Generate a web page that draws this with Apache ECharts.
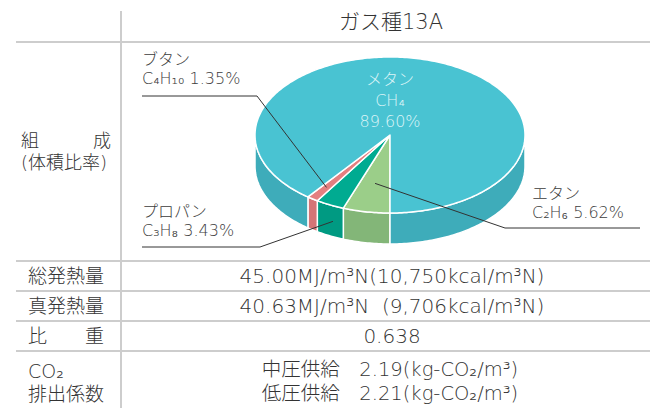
<!DOCTYPE html>
<html><head><meta charset="utf-8">
<script src="https://cdn.jsdelivr.net/npm/echarts@6/dist/echarts.min.js"></script>
<style>html,body{margin:0;padding:0;background:#fff}#c{width:650px;height:408px}</style>
</head><body><div id="c"></div>
<script>
// ---- data ----
const headerText = 'ガス種13A';
const compositionLabel = ['組\u3000\u3000\u3000成', '(体積比率)'];
const gasNames = ['エタン', 'プロパン', 'ブタン', 'メタン'];
const gasFormulas = ['C₂H₆', 'C₃H₈', 'C₄H₁₀', 'CH₄'];
const gasShares = [5.62, 3.43, 1.35, 89.60];
const rowLabels = ['総発熱量', '真発熱量', '比\u3000\u3000重'];
const rowValues = ['45.00MJ/m³N(10,750kcal/m³N)', '40.63MJ/m³N  (9,706kcal/m³N)', '0.638'];
const co2Label = ['CO₂', '排出係数'];
const co2Supply = ['中圧供給', '低圧供給'];
const co2Values = [2.19, 2.21];

// ---- styles / layout ----
const topColors = ['#9BCE89', '#00AB91', '#E47F80', '#49C3D2'];
const sideColors = ['#83B678', '#009A82', '#D47576', '#3EACBA'];
const FONT = '"DejaVu Sans","Noto Sans CJK JP",sans-serif';
const TXT = '#333333';
const LINE = '#cdcdcd';
const PIE = {cx: 390, cy: 135, rx: 135, ry: 78, depth: 31};
const labelLayout = [
  {anchorF: 0.63, drop: 0, elbow: [505, 228], end: [640, 228], tx: 532, ty: 203},
  {anchorF: 0.95, drop: 20, elbow: [260, 247], end: [142, 247], tx: 142, ty: 221},
  {anchorF: 0.82, drop: 0, elbow: [257, 96], end: [142, 96], tx: 142, ty: 69},
  null
];

const total = gasShares.reduce((a, b) => a + b, 0);
const starts = [];
{ let acc = 0; gasShares.forEach(v => { starts.push(acc / total * 360); acc += v; }); }
const rad = d => d * Math.PI / 180;
function pt(phi, f, dy) {
  f = f == null ? 1 : f; dy = dy || 0;
  return [PIE.cx - PIE.rx * f * Math.sin(rad(phi)), PIE.cy + PIE.ry * f * Math.cos(rad(phi)) + dy];
}
function arc(a, b, dy) {
  const pts = []; const n = Math.max(2, Math.ceil(Math.abs(b - a)));
  for (let i = 0; i <= n; i++) pts.push(pt(a + (b - a) * i / n, 1, dy));
  return pts;
}
function sliceRange(i) { return [starts[i], starts[i] + gasShares[i] / total * 360]; }

function renderSide(params, api) {
  const i = params.dataIndex;
  const [a, b] = sliceRange(i);
  const children = [];
  [[0, 90], [270, 360]].forEach(([lo, hi]) => {
    const s = Math.max(a, lo), e = Math.min(b, hi);
    if (e > s) {
      const top = arc(s, e, 0);
      const bot = arc(e, s, PIE.depth);
      children.push({type: 'polygon', shape: {points: top.concat(bot)},
        style: {fill: sideColors[i], stroke: '#fff', lineWidth: 1.5, lineJoin: 'round'}});
    }
  });
  return {type: 'group', children};
}
function renderTop(params, api) {
  const i = params.dataIndex;
  const [a, b] = sliceRange(i);
  const children = [{type: 'polygon', shape: {points: [[PIE.cx, PIE.cy]].concat(arc(a, b, 0))},
    style: {fill: topColors[i], stroke: '#fff', lineWidth: 1.5, lineJoin: 'round'}}];
  const L = labelLayout[i];
  if (L) {
    const mid = (a + b) / 2;
    const anc = pt(mid, L.anchorF, L.drop);
    children.push({type: 'polyline', shape: {points: [anc, L.elbow, L.end]},
      style: {stroke: '#333', lineWidth: 1, fill: null}, z2: 20});
  }
  return {type: 'group', children};
}

function txt(x, y, text, size, opts) {
  opts = opts || {};
  return {type: 'text', x, y, silent: true,
    style: {text, fill: opts.color || TXT, font: `300 ${size}px ${opts.font || FONT}`, align: opts.align || 'left',
      verticalAlign: 'middle', lineHeight: opts.lineHeight || Math.round(size * 1.15)}};
}

const graphics = [];
// table lines
graphics.push({type: 'line', shape: {x1: 121, y1: 11, x2: 121, y2: 408}, style: {stroke: LINE, lineWidth: 2}});
[42, 261, 291, 321, 351].forEach(y => graphics.push({type: 'line', shape: {x1: 16, y1: y, x2: 650, y2: y}, style: {stroke: LINE, lineWidth: 2}}));
graphics.push(txt(391, 22, headerText, 21, {align: 'center'}));
graphics.push(txt(21, 151, compositionLabel.join('\n'), 18, {lineHeight: 22}));
rowLabels.forEach((t, k) => {
  graphics.push(txt(28, 276 + 30 * k, t, 19));
  graphics.push(txt(392, 276 + 30 * k, rowValues[k], 20, {align: 'center'}));
});
graphics.push(txt(28, 382, co2Label.join('\n'), 19, {lineHeight: 23}));
graphics.push(txt(390, 381, co2Supply.map((s, k) => `${s}\u3000${co2Values[k].toFixed(2)}(kg-CO₂/m³)`).join('\n'), 19.5,
  {align: 'center', lineHeight: 24}));
// slice labels
gasNames.forEach((n, i) => {
  const L = labelLayout[i];
  if (L) {
    graphics.push(txt(L.tx, L.ty, `${n}\n${gasFormulas[i]} ${gasShares[i].toFixed(2)}%`, 16, {color: '#3c3c3c', lineHeight: 19}));
  } else {
    graphics.push(txt(PIE.cx, 100, `${n}\n${gasFormulas[i]}\n${gasShares[i].toFixed(2)}%`, 16,
      {align: 'center', color: '#DCF4F7', lineHeight: 21}));
  }
});

const chart = echarts.init(document.getElementById('c'), null, {renderer: 'svg'});
chart.setOption({
  animation: false,
  series: [
    {type: 'custom', coordinateSystem: 'none', renderItem: renderSide, data: gasShares, z: 1, silent: true},
    {type: 'custom', coordinateSystem: 'none', renderItem: renderTop, data: gasShares, z: 2, silent: true}
  ],
  graphic: {elements: graphics.map(g => Object.assign({z: 10}, g))}
});
</script>
</body></html>
